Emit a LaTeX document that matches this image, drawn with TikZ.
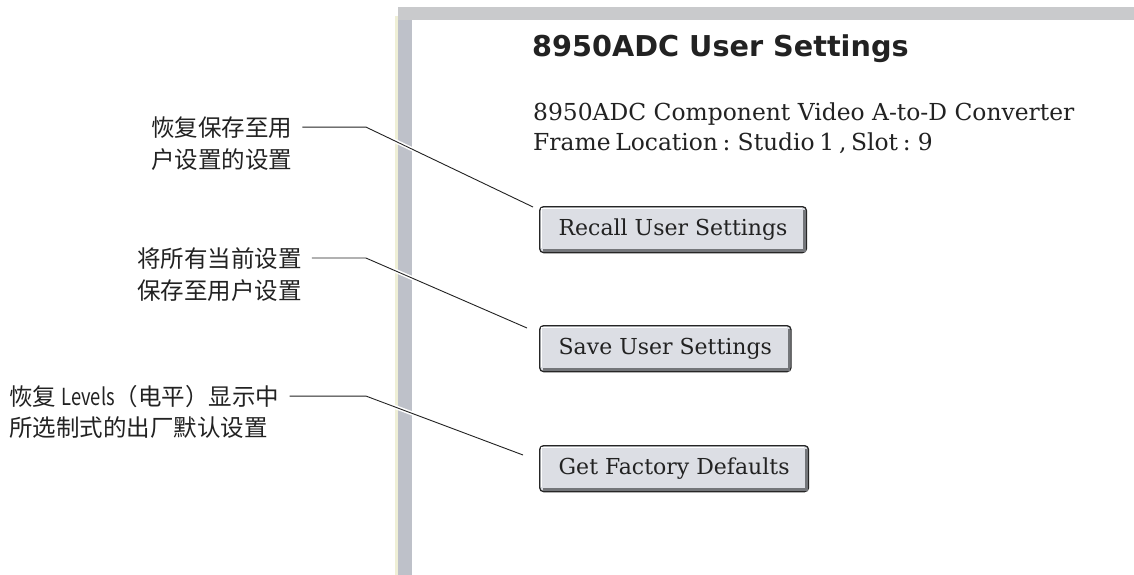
\documentclass[tikz,border=0pt]{standalone}
\usepackage{fontspec}
\newfontfamily\cjk{Noto Sans CJK SC}
\newfontfamily\titlefont{DejaVu Sans}
\newfontfamily\slab{DejaVu Serif}
\usetikzlibrary{calc}
\definecolor{barA}{HTML}{C9CACC}
\definecolor{barB}{HTML}{BEC1C9}
\definecolor{barC}{HTML}{EFEFD6}
\definecolor{btnface}{HTML}{DCDEE4}
\definecolor{btnshadow}{HTML}{74767A}
\definecolor{ink}{HTML}{222222}
\newcommand{\btnbevel}[1]{%
  \draw[btnshadow, line width=2.6pt] ([xshift=4pt,yshift=2.6pt]#1.south west) -- ([xshift=-2.6pt,yshift=2.6pt]#1.south east) -- ([xshift=-2.6pt,yshift=-4pt]#1.north east);
  \draw[white, line width=1.2pt] ([xshift=2.2pt,yshift=5pt]#1.south west) -- ([xshift=2.2pt,yshift=-2.2pt]#1.north west) -- ([xshift=-5pt,yshift=-2.2pt]#1.north east);
}
\begin{document}
\begin{tikzpicture}[x=1pt,y=-1pt,
  lbl/.style={anchor=base west, inner sep=0pt, font=\cjk\fontsize{23.5}{28}\selectfont, text=ink},
  body/.style={anchor=base west, inner sep=0pt, font=\slab\fontsize{23.4}{28}\selectfont, text=ink},
  btn/.style={anchor=north west, draw=black!85, line width=1.3pt, fill=btnface, rounded corners=4pt,
    minimum height=46pt, inner xsep=19pt, inner ysep=0pt, font=\slab\fontsize{22}{26}\selectfont, text=ink},
  lead/.style={draw=ink, line width=0.9pt},
  halo/.style={draw=white, line width=4pt}]
\useasboundingbox (0,0) rectangle (1134,575);
\fill[white] (0,0) rectangle (1134,575);
% window frame
\fill[barC] (395,16) rectangle (397.5,575);
\fill[barB] (397.5,16) rectangle (412,575);
\fill[barA] (398,7) rectangle (1134,20);
% title and info
\node[anchor=base west, inner sep=0pt, font=\titlefont\bfseries\fontsize{28.7}{34}\selectfont, text=ink] (title) at (532,57) {8950ADC User Settings};
\node[body] (info1) at (533,121) {8950ADC Component Video A-to-D Converter};
\node[body] (info2) at (533,150) {\spaceskip=0.2em Frame Location : Studio 1 , Slot : 9};
% labels
\node[lbl] (l1a) at (151,136) {恢复保存至用};
\node[lbl] (l1b) at (151,168) {户设置的设置};
\node[lbl] (l2a) at (137,267) {将所有当前设置};
\node[lbl] (l2b) at (137,299) {保存至用户设置};
\node[lbl] (l3a) at (9,405) {恢复 \scalebox{0.78}[1]{Levels}（电平）显示中};
\node[lbl] (l3b) at (9,436) {所选制式的出厂默认设置};
% buttons (positions)
\path (539,206) coordinate (p1) (539,325) coordinate (p2) (539,445) coordinate (p3);
\coordinate (e1) at ($(p1)+(-6,1)$);
\coordinate (e2) at ($(p2)+(-12,3)$);
\coordinate (e3) at ($(p3)+(-16,10)$);
\coordinate (k) at (366,0);
\path (l1a.east) ++(10,0) coordinate (s1);
\path (l2a.east) ++(10,0) coordinate (s2);
\path (l3a.east) ++(10,0) coordinate (s3);
% leaders
\foreach \i in {1,2,3}{
  \draw[halo] (k |- s\i) -- (e\i);
  \draw[lead] (s\i) -- (k |- s\i) -- (e\i);
}
% buttons
\node[btn] (b1) at (p1) {Recall User Settings};
\node[btn] (b2) at (p2) {Save User Settings};
\node[btn] (b3) at (p3) {Get Factory Defaults};
\btnbevel{b1}
\btnbevel{b2}
\btnbevel{b3}
\end{tikzpicture}
\end{document}
